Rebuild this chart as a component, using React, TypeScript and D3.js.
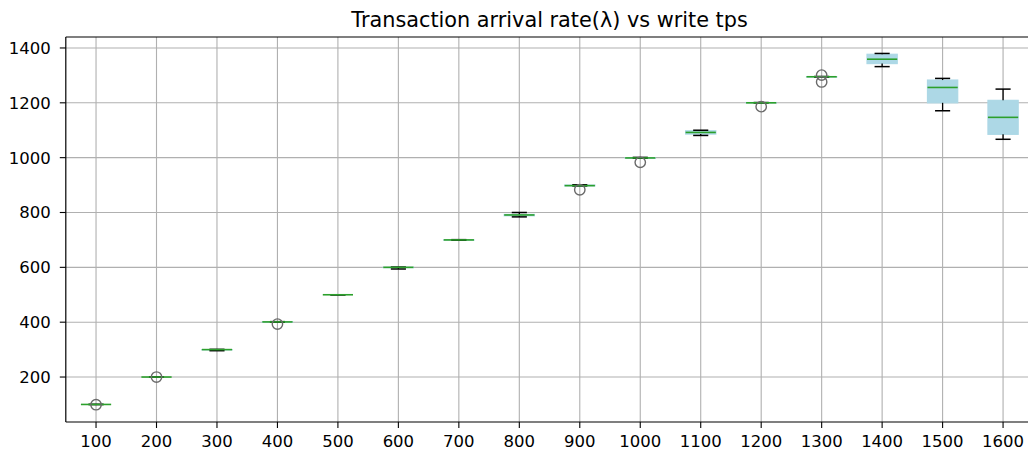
import React from "react";
import * as d3 from "d3";

const categories = [100, 200, 300, 400, 500, 600, 700, 800, 900, 1000, 1100, 1200, 1300, 1400, 1500, 1600];
const whiskerLow = [100, 200, 296, 400, 500, 594, 699, 784, 897, 998, 1081, 1200, 1294, 1332, 1171, 1067];
const quartile1 = [100, 200, 299, 400, 500, 599, 699, 788, 897, 998, 1086, 1200, 1294, 1343, 1200, 1085];
const medians = [100, 200, 300, 401, 500, 600, 700, 791, 898, 999, 1092, 1200, 1295, 1359, 1256, 1147];
const quartile3 = [100, 200, 300, 401, 500, 600, 700, 793, 900, 1000, 1098, 1201, 1295, 1377, 1283, 1209];
const whiskerHigh = [100, 200, 301, 402, 500, 601, 701, 800, 901, 1001, 1100, 1201, 1296, 1380, 1289, 1250];
const fliers = [[99], [200], [], [393], [], [], [], [], [883], [983], [], [1186], [1301, 1276], [], [], []];
const yTicks = [200, 400, 600, 800, 1000, 1200, 1400];
const title = "Transaction arrival rate(λ) vs write tps";

const W = 1028;
const H = 453;
const left = 65.8;
const right = 1033.3;
const top = 37;
const bottom = 422;
const font = "DejaVu Sans, sans-serif";

export default function App() {
  const x = d3.scaleLinear().domain([0.5, categories.length + 0.5]).range([left, right]);
  const y = d3.scaleLinear().domain([36, 1440]).range([bottom, top]);
  const step = x(2) - x(1);
  const boxW = step * 0.5;
  const capW = boxW * 0.5;
  const grid = "#b0b0b0";

  return (
    <svg width={W} height={H} style={{ position: "absolute", left: 0, top: 0, background: "#fff" }}>
      <rect x={0} y={0} width={W} height={H} fill="#fff" />
      <text x={(left + right) / 2} y={27} textAnchor="middle" fontFamily={font} fontSize={20.8} fill="#000">
        {title}
      </text>
      {/* grid */}
      {categories.map((c, i) => (
        <line key={"gx" + c} x1={x(i + 1)} x2={x(i + 1)} y1={top} y2={bottom} stroke={grid} strokeWidth={1.1} />
      ))}
      {yTicks.map((t) => (
        <line key={"gy" + t} x1={left} x2={right} y1={y(t)} y2={y(t)} stroke={grid} strokeWidth={1.1} />
      ))}
      {/* boxes */}
      {categories.map((c, i) => {
        const cx = x(i + 1);
        const yq1 = y(quartile1[i]);
        const yq3 = y(quartile3[i]);
        return (
          <g key={"b" + c}>
            <rect x={cx - boxW / 2} y={yq3} width={boxW} height={Math.max(0, yq1 - yq3)} fill="#add8e6" stroke="#add8e6" strokeWidth={1.2} />
            <line x1={cx} x2={cx} y1={yq1} y2={y(whiskerLow[i])} stroke="#000" strokeWidth={1.3} />
            <line x1={cx} x2={cx} y1={yq3} y2={y(whiskerHigh[i])} stroke="#000" strokeWidth={1.3} />
            <line x1={cx - capW / 2} x2={cx + capW / 2} y1={y(whiskerLow[i])} y2={y(whiskerLow[i])} stroke="#000" strokeWidth={1.5} />
            <line x1={cx - capW / 2} x2={cx + capW / 2} y1={y(whiskerHigh[i])} y2={y(whiskerHigh[i])} stroke="#000" strokeWidth={1.5} />
            <line x1={cx - boxW / 2} x2={cx + boxW / 2} y1={y(medians[i])} y2={y(medians[i])} stroke="#2ca02c" strokeWidth={1.6} />
            {fliers[i].map((f, j) => (
              <circle key={j} cx={cx} cy={y(f)} r={5.2} fill="none" stroke="#6a6a6a" strokeWidth={1.4} />
            ))}
          </g>
        );
      })}
      {/* spines */}
      <line x1={left} x2={left} y1={top} y2={bottom} stroke="#000" strokeWidth={1.2} />
      <line x1={left} x2={right} y1={bottom} y2={bottom} stroke="#000" strokeWidth={1.2} />
      <line x1={left} x2={right} y1={top} y2={top} stroke="#000" strokeWidth={1.2} />
      <line x1={right} x2={right} y1={top} y2={bottom} stroke="#000" strokeWidth={1.2} />
      {/* y ticks */}
      {yTicks.map((t) => (
        <g key={"yt" + t}>
          <line x1={left - 6} x2={left} y1={y(t)} y2={y(t)} stroke="#000" strokeWidth={1.1} />
          <text x={left - 15} y={y(t)} dy="0.36em" textAnchor="end" fontFamily={font} fontSize={16.5} fill="#000">
            {t}
          </text>
        </g>
      ))}
      {/* x ticks */}
      {categories.map((c, i) => (
        <g key={"xt" + c}>
          <line x1={x(i + 1)} x2={x(i + 1)} y1={bottom} y2={bottom + 6} stroke="#000" strokeWidth={1.1} />
          <text x={x(i + 1)} y={bottom + 25} textAnchor="middle" fontFamily={font} fontSize={16.5} fill="#000">
            {c}
          </text>
        </g>
      ))}
    </svg>
  );
}
